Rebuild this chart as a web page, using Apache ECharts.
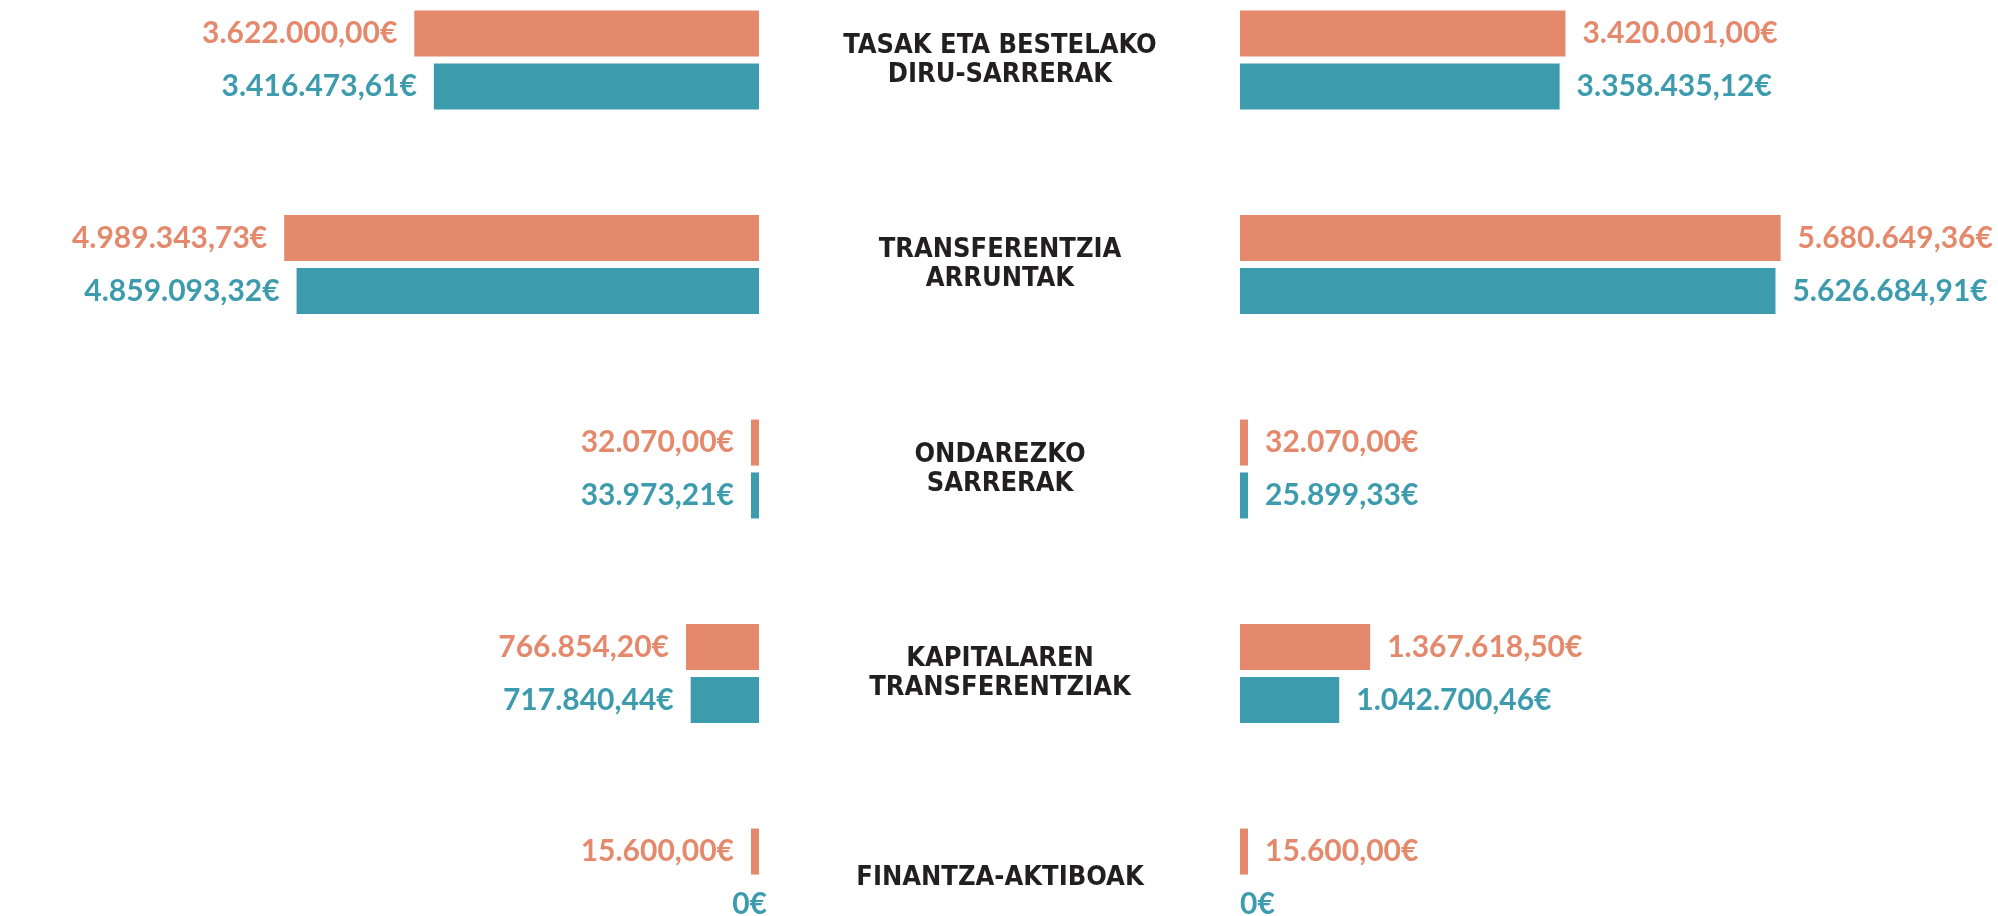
<!DOCTYPE html>
<html>
<head>
<meta charset="utf-8">
<title>Diru-sarrerak</title>
<script src="https://cdn.jsdelivr.net/npm/echarts@6/dist/echarts.min.js"></script>
<style>
    html, body {margin: 0; padding: 0; background: #fff;}
    #main {width: 1998px; height: 916px;}
</style>
</head>
<body>
<div id="main"></div>
<script>
// kategoriak (erdiko testuak)
var categories = ['TASAK ETA BESTELAKO\nDIRU-SARRERAK', 'TRANSFERENTZIA\nARRUNTAK', 'ONDAREZKO\nSARRERAK', 'KAPITALAREN\nTRANSFERENTZIAK', 'FINANTZA-AKTIBOAK'];
// ezkerreko zutabea
var leftOrange = [3622000.00, 4989343.73, 32070.00, 766854.20, 15600.00];
var leftTeal = [3416473.61, 4859093.32, 33973.21, 717840.44, 0];
// eskuineko zutabea
var rightOrange = [3420001.00, 5680649.36, 32070.00, 1367618.50, 15600.00];
var rightTeal = [3358435.12, 5626684.91, 25899.33, 1042700.46, 0];

var ORANGE = '#e4896c';
var TEAL = '#3d9bae';
var axisMax = 6000000;

//zenbakia euro formatuan: 3.622.000,00€
function euro(v){
    if(v === 0){return '0€';}
    var p = v.toFixed(2).split('.');
    return p[0].replace(/\B(?=(\d{3})+(?!\d))/g, '.') + ',' + p[1] + '€';
}

// 0 balioa: barrarik ez, etiketa bakarrik
function items(arr, side){
    return arr.map(function (v) {
        if(v !== 0){return v;}
        return {
            value: v,
            itemStyle: {color: 'rgba(0,0,0,0)'},
            label: {position: side === 'left' ? 'insideRight' : 'insideLeft', distance: 0}
        };
    });
}

function barSeries(name, data, color, side, idx){
    return {
        name: name,
        type: 'bar',
        xAxisIndex: idx,
        yAxisIndex: idx,
        data: items(data, side),
        barWidth: 46,
        barGap: '15%',
        barMinHeight: 8,
        clip: false,
        itemStyle: {color: color},
        label: {
            show: true,
            position: side,
            distance: 17,
            color: color,
            fontFamily: 'Lato, "Open Sans", sans-serif',
            fontWeight: 'bold',
            fontSize: 30,
            formatter: function (p) { return euro(p.value); }
        }
    };
}

var hidden = {show: false};

var myChart = echarts.init(document.getElementById('main'));
var option = {
    animation: false,
    backgroundColor: '#ffffff',
    // boundaryGap:false -> lehen eta azken kategoria gridaren ertzetan
    grid: [
        {left: 188, width: 571, top: 60, bottom: 38, outerBoundsMode: 'none'},
        {left: 1240, width: 571, top: 60, bottom: 38, outerBoundsMode: 'none'}
    ],
    xAxis: [
        {type: 'value', gridIndex: 0, min: 0, max: axisMax, inverse: true,
            axisLine: hidden, axisTick: hidden, axisLabel: hidden, splitLine: hidden},
        {type: 'value', gridIndex: 1, min: 0, max: axisMax,
            axisLine: hidden, axisTick: hidden, axisLabel: hidden, splitLine: hidden}
    ],
    yAxis: [
        {type: 'category', gridIndex: 0, data: categories, inverse: true, boundaryGap: false,
            axisLine: hidden, axisTick: hidden, axisLabel: hidden, splitLine: hidden},
        {type: 'category', gridIndex: 1, data: categories, inverse: true, boundaryGap: false,
            axisLine: hidden, axisTick: hidden, splitLine: hidden,
            axisLabel: {
                show: true,
                interval: 0,
                margin: 240,
                align: 'center',
                padding: [9, 0, 0, 0],
                color: '#231f20',
                fontFamily: '"DejaVu Sans Condensed", "Liberation Sans", sans-serif',
                fontWeight: 'bold',
                fontSize: 27,
                lineHeight: 29
            }}
    ],
    series: [
        barSeries('Ezker1', leftOrange, ORANGE, 'left', 0),
        barSeries('Ezker2', leftTeal, TEAL, 'left', 0),
        barSeries('Eskuin1', rightOrange, ORANGE, 'right', 1),
        barSeries('Eskuin2', rightTeal, TEAL, 'right', 1)
    ]
};
myChart.setOption(option);
</script>
</body>
</html>
